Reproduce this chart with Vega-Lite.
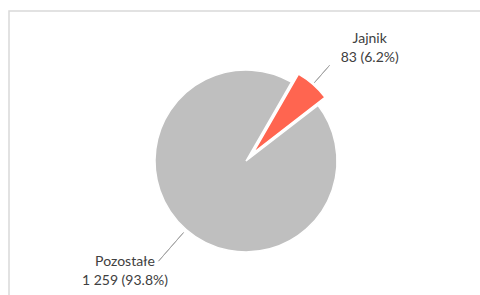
{
  "$schema": "https://vega.github.io/schema/vega-lite/v6.json",
  "width": 474,
  "height": 300,
  "padding": {"left": 8, "top": 10, "right": 0, "bottom": 0},
  "background": "white",
  "config": {"view": {"stroke": "#D9D9D9", "strokeWidth": 1}, "font": "Lato"},
  "data": {"values": [
    {"category": "Jajnik", "value": 83, "label": "83 (6.2%)"},
    {"category": "Pozostałe", "value": 1259, "label": "1 259 (93.8%)"}
  ]},
  "transform": [
    {"stack": "value", "groupby": [], "sort": [{"field": "category", "order": "ascending"}], "as": ["start", "end"]},
    {"calculate": "(datum.start + datum.end) / 2", "as": "mid"},
    {"calculate": "datum.category + '\\n' + datum.label", "as": "text"}
  ],
  "layer": [
    {
      "transform": [{"filter": "datum.category === 'Jajnik'"}],
      "mark": {"type": "rect", "fill": null, "stroke": "#D9D9D9", "strokeWidth": 1.5},
      "encoding": {}
    },
    {
      "transform": [{"filter": "datum.category === 'Pozostałe'"}],
      "mark": {"type": "arc", "outerRadius": 91, "stroke": "white", "strokeWidth": 1.5},
      "encoding": {
        "theta": {"field": "start", "type": "quantitative", "scale": {"domain": [0, 1342], "range": [0.5236, 6.8068]}},
        "theta2": {"field": "end"},
        "color": {"field": "category", "type": "nominal", "scale": {"domain": ["Jajnik", "Pozostałe"], "range": ["#FF6550", "#BFBFBF"]}, "legend": null}
      }
    },
    {
      "transform": [{"filter": "datum.category === 'Jajnik'"}],
      "mark": {"type": "arc", "outerRadius": 91, "stroke": "white", "strokeWidth": 1.5, "xOffset": 7, "yOffset": -8},
      "encoding": {
        "theta": {"field": "start", "type": "quantitative"},
        "theta2": {"field": "end"},
        "color": {"field": "category", "type": "nominal", "legend": null}
      }
    },
    {
      "transform": [{"filter": "datum.category === 'Jajnik'"}],
      "mark": {"type": "arc", "outerRadius": 127, "innerRadius": 104, "stroke": "#A6A6A6", "strokeWidth": 1, "fill": null},
      "encoding": {
        "theta": {"field": "mid", "type": "quantitative"},
        "theta2": {"field": "mid"}
      }
    },
    {
      "transform": [{"filter": "datum.category === 'Pozostałe'"}],
      "mark": {"type": "arc", "outerRadius": 133, "innerRadius": 95, "stroke": "#A6A6A6", "strokeWidth": 1, "fill": null},
      "encoding": {
        "theta": {"field": "mid", "type": "quantitative"},
        "theta2": {"field": "mid"}
      }
    },
    {
      "transform": [{"filter": "datum.category === 'Jajnik'"}],
      "mark": {"type": "text", "radius": 150, "dx": 25, "dy": -9, "align": "center", "baseline": "middle", "lineBreak": "\n", "lineHeight": 19, "fontSize": 14, "color": "#404040"},
      "encoding": {
        "theta": {"field": "mid", "type": "quantitative"},
        "text": {"field": "text"}
      }
    },
    {
      "transform": [{"filter": "datum.category === 'Pozostałe'"}],
      "mark": {"type": "text", "radius": 146, "dx": -25, "dy": -9, "align": "center", "baseline": "middle", "lineBreak": "\n", "lineHeight": 19, "fontSize": 14, "color": "#404040"},
      "encoding": {
        "theta": {"field": "mid", "type": "quantitative"},
        "text": {"field": "text"}
      }
    }
  ]
}
